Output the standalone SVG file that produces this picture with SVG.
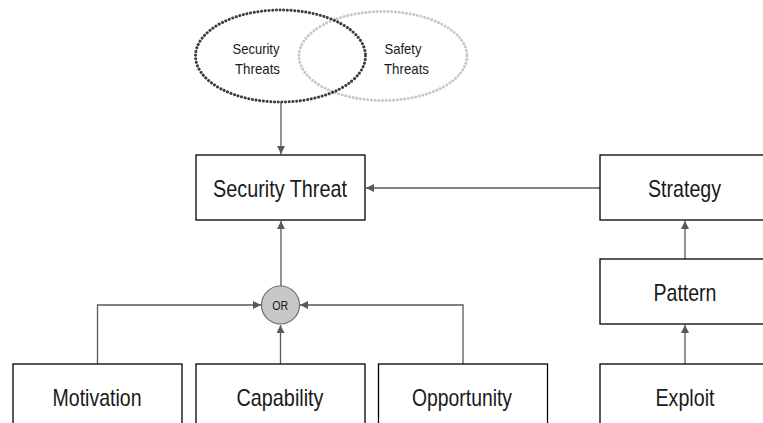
<svg xmlns="http://www.w3.org/2000/svg" width="763" height="423" viewBox="0 0 763 423">
<style>
.box{fill:#fff;stroke:#000;stroke-width:1.3}
.lbl{font-family:"Liberation Sans",Arial,sans-serif;font-size:24px;fill:#1a1a1a;text-anchor:middle}
.sm{font-family:"Liberation Sans",Arial,sans-serif;font-size:14.5px;fill:#1a1a1a;text-anchor:middle}
.edge{fill:none;stroke:#595959;stroke-width:1.3}
</style>
<defs>
<marker id="ah" markerWidth="10" markerHeight="10" refX="8" refY="4" orient="auto" markerUnits="userSpaceOnUse">
<path d="M0,0 L8,4 L0,8 Z" fill="#595959"/>
</marker>
</defs>
<rect width="763" height="423" fill="#fff"/>
<g id="safety-threats">
<ellipse cx="383" cy="56" rx="84" ry="44.5" fill="none" stroke="#c8c8c8" stroke-width="3" stroke-dasharray="0.1 3.6" stroke-linecap="round"/>
<text class="sm" x="403" y="54" textLength="37" lengthAdjust="spacingAndGlyphs">Safety</text>
<text class="sm" x="406.5" y="74" textLength="45" lengthAdjust="spacingAndGlyphs">Threats</text>
</g>
<g id="security-threats">
<ellipse cx="280.5" cy="56" rx="85" ry="46" fill="none" stroke="#3c3c3c" stroke-width="3" stroke-dasharray="0.1 3.6" stroke-linecap="round"/>
<text class="sm" x="256" y="54" textLength="47" lengthAdjust="spacingAndGlyphs">Security</text>
<text class="sm" x="257.5" y="74" textLength="45" lengthAdjust="spacingAndGlyphs">Threats</text>
</g>
<g id="connectors">
<path class="edge" d="M281,102 V154" marker-end="url(#ah)"/>
<path class="edge" d="M600,188 H366" marker-end="url(#ah)"/>
<path class="edge" d="M281,286 V221" marker-end="url(#ah)"/>
<path class="edge" d="M97.5,364 V305 H261" marker-end="url(#ah)"/>
<path class="edge" d="M280.5,364 V325" marker-end="url(#ah)"/>
<path class="edge" d="M463,364 V305 H300" marker-end="url(#ah)"/>
<path class="edge" d="M685,259 V221" marker-end="url(#ah)"/>
<path class="edge" d="M685,364 V325" marker-end="url(#ah)"/>
</g>
<g id="security-threat">
<rect class="box" x="196" y="155" width="169" height="65"/>
<text class="lbl" x="280" y="197" textLength="134" lengthAdjust="spacingAndGlyphs">Security Threat</text>
</g>
<g id="or-gate">
<circle cx="280.5" cy="305" r="19" fill="#c8c8c8" stroke="#707070" stroke-width="1.2"/>
<text x="280.3" y="310" font-family="Liberation Sans,Arial,sans-serif" font-size="12.5px" fill="#1a1a1a" text-anchor="middle" textLength="16" lengthAdjust="spacingAndGlyphs">OR</text>
</g>
<g id="strategy">
<rect class="box" x="600" y="155" width="169" height="65"/>
<text class="lbl" x="684.5" y="197" textLength="73" lengthAdjust="spacingAndGlyphs">Strategy</text>
</g>
<g id="pattern">
<rect class="box" x="600" y="259" width="169" height="65"/>
<text class="lbl" x="685" y="301" textLength="63" lengthAdjust="spacingAndGlyphs">Pattern</text>
</g>
<g id="exploit">
<rect class="box" x="600" y="364" width="169" height="65"/>
<text class="lbl" x="685" y="406" textLength="59" lengthAdjust="spacingAndGlyphs">Exploit</text>
</g>
<g id="motivation">
<rect class="box" x="13" y="364" width="169" height="65"/>
<text class="lbl" x="97" y="406" textLength="89" lengthAdjust="spacingAndGlyphs">Motivation</text>
</g>
<g id="capability">
<rect class="box" x="196" y="364" width="169" height="65"/>
<text class="lbl" x="280" y="406" textLength="87" lengthAdjust="spacingAndGlyphs">Capability</text>
</g>
<g id="opportunity">
<rect class="box" x="378.5" y="364" width="169" height="65"/>
<text class="lbl" x="462" y="406" textLength="100" lengthAdjust="spacingAndGlyphs">Opportunity</text>
</g>
</svg>
